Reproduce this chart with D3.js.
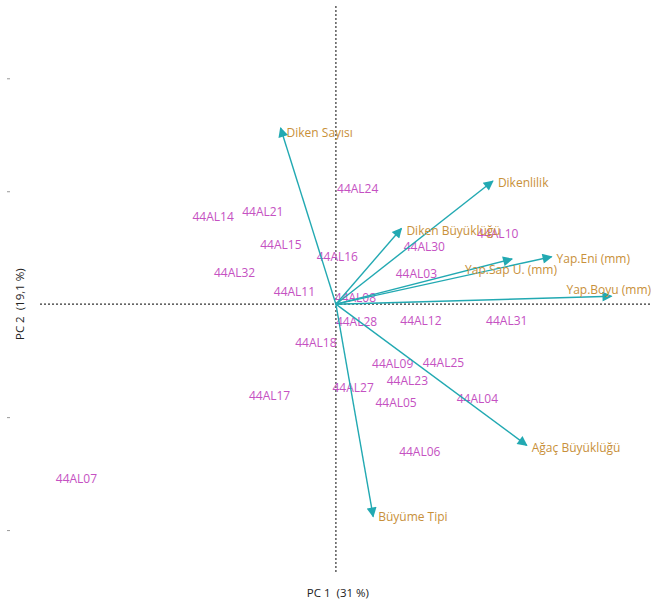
<!DOCTYPE html>
<html>
<head>
<meta charset="utf-8">
<script src="https://cdn.jsdelivr.net/npm/d3@7"></script>
<style>
  html, body { margin: 0; padding: 0; background: #fff; }
  svg { display: block; font-family: "Open Sans", "Noto Sans", sans-serif; }
</style>
</head>
<body>
<svg id="chart" width="651" height="608"></svg>
<script>
// PCA biplot: observation scores and variable loadings on PC1 / PC2
const obsNames = ["44AL24","44AL14","44AL21","44AL15","44AL16","44AL32","44AL11","44AL08",
  "44AL28","44AL12","44AL31","44AL18","44AL09","44AL25","44AL23","44AL27","44AL17",
  "44AL05","44AL04","44AL06","44AL07","44AL30","44AL10","44AL03"];
const obsPC1 = [0.01,-1.27,-0.83,-0.67,-0.17,-1.08,-0.55,-0.01,
  0.00,0.57,1.33,-0.36,0.32,0.77,0.45,-0.03,-0.77,
  0.35,1.07,0.56,-2.48,0.60,1.25,0.53];
const obsPC2 = [1.02,0.77,0.82,0.53,0.42,0.28,0.11,0.06,
  -0.16,-0.15,-0.15,-0.34,-0.53,-0.52,-0.68,-0.74,-0.81,
  -0.87,-0.84,-1.31,-1.55,0.51,0.62,0.27];

const varNames = ["Diken Sayısı","Dikenlilik","Diken Büyüklüğü","Yap.Sap U. (mm)",
  "Yap.Eni (mm)","Yap.Boyu (mm)","Ağaç Büyüklüğü","Büyüme Tipi"];
const varPC1 = [-0.49,1.39,0.58,1.56,1.91,2.44,1.69,0.33];
const varPC2 = [1.56,1.09,0.67,0.40,0.42,0.07,-1.25,-1.88];

const yTicks = [-2,-1,1,2];
const xTitle = "PC 1  (31 %)";
const yTitle = "PC 2  (19,1 %)";

// label placement for loading vectors (pixel offsets from arrow tip)
const varLabelOffset = {
  "Diken Sayısı": [6, 5],
  "Yap.Sap U. (mm)": [-47, 11],
  "Yap.Boyu (mm)": [-45, -6],
  "Büyüme Tipi": [5, 0]
};

const svg = d3.select("#chart");
const x = d3.scaleLinear().domain([-2.62, 2.79]).range([40, 651]);
const y = d3.scaleLinear().domain([-2.38, 2.64]).range([573, 6]);

const axisColor = "#333";

// zero lines
svg.append("line")
  .attr("x1", x(-2.62)).attr("x2", x(2.79))
  .attr("y1", y(0)).attr("y2", y(0))
  .attr("stroke", axisColor).attr("stroke-width", 1.2)
  .attr("stroke-dasharray", "2,2");
svg.append("line")
  .attr("x1", x(0)).attr("x2", x(0))
  .attr("y1", y(2.64)).attr("y2", y(-2.38))
  .attr("stroke", axisColor).attr("stroke-width", 1.2)
  .attr("stroke-dasharray", "2,2");

// small left tick marks without labels
const yAxis = svg.append("g")
  .attr("transform", "translate(10,0)")
  .call(d3.axisLeft(y).tickValues(yTicks).tickSize(3).tickFormat(""));
yAxis.select(".domain").remove();
yAxis.selectAll(".tick line").attr("stroke", "#999");

// axis titles
svg.append("text")
  .attr("x", x(0) + 2).attr("y", 597)
  .attr("text-anchor", "middle")
  .attr("font-size", 11.5).attr("fill", "#222")
  .attr("xml:space", "preserve")
  .text(xTitle);
svg.append("text")
  .attr("transform", `translate(24,${y(0)}) rotate(-90)`)
  .attr("text-anchor", "middle")
  .attr("font-size", 11.5).attr("fill", "#222")
  .attr("xml:space", "preserve")
  .text(yTitle);

// arrowhead marker
const arrowColor = "#22a9b2";
svg.append("defs").append("marker")
  .attr("id", "head")
  .attr("viewBox", "0 0 10 10")
  .attr("refX", 9).attr("refY", 5)
  .attr("markerUnits", "userSpaceOnUse")
  .attr("markerWidth", 12).attr("markerHeight", 10)
  .attr("orient", "auto")
  .append("path")
  .attr("d", "M0,0 L10,5 L0,10 Z")
  .attr("fill", arrowColor);

const vars = varNames.map((n, i) => ({name: n, pc1: varPC1[i], pc2: varPC2[i]}));
const obs = obsNames.map((n, i) => ({name: n, pc1: obsPC1[i], pc2: obsPC2[i]}));

// observation labels
svg.append("g").selectAll("text")
  .data(obs)
  .join("text")
  .attr("x", d => x(d.pc1))
  .attr("y", d => y(d.pc2))
  .attr("dy", "0.35em")
  .attr("font-size", 12)
  .attr("fill", "#c551c2")
  .text(d => d.name);

// loading vectors
svg.append("g").selectAll("line")
  .data(vars)
  .join("line")
  .attr("x1", x(0)).attr("y1", y(0))
  .attr("x2", d => x(d.pc1)).attr("y2", d => y(d.pc2))
  .attr("stroke", arrowColor).attr("stroke-width", 1.4)
  .attr("marker-end", "url(#head)");

svg.append("g").selectAll("text")
  .data(vars)
  .join("text")
  .attr("x", d => x(d.pc1) + (varLabelOffset[d.name] ? varLabelOffset[d.name][0] : 5))
  .attr("y", d => y(d.pc2) + (varLabelOffset[d.name] ? varLabelOffset[d.name][1] : 2))
  .attr("dy", "0.35em")
  .attr("font-size", 12)
  .attr("fill", "#c8903a")
  .text(d => d.name);
</script>
</body>
</html>
